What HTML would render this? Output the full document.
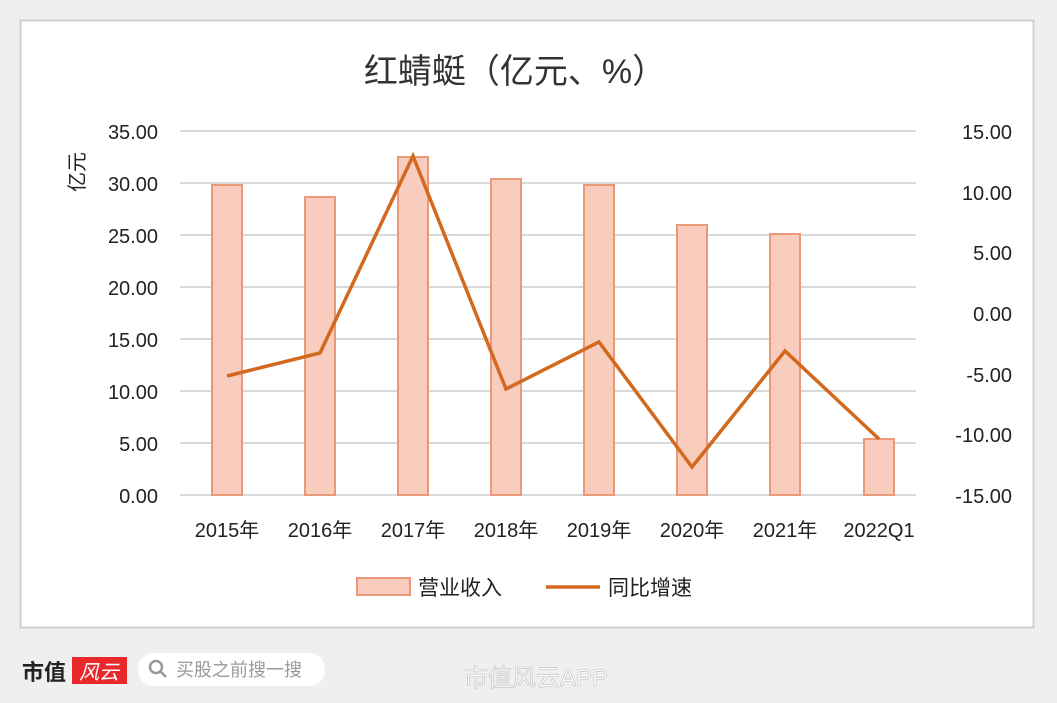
<!DOCTYPE html>
<html><head><meta charset="utf-8"><style>
body{margin:0;width:1057px;height:703px;background:#efefef;overflow:hidden;font-family:"Liberation Sans","Noto Sans CJK SC",sans-serif}
</style></head><body>
<svg width="1057" height="703" xmlns="http://www.w3.org/2000/svg" style="position:absolute;left:0;top:0">
<rect x="20.5" y="20.5" width="1013" height="607" fill="#fff" stroke="#d0d0d0" stroke-width="2"/>
<text x="515" y="83" text-anchor="middle" font-size="34" fill="#333" font-family="Liberation Sans,Noto Sans CJK SC,sans-serif">红蜻蜓（亿元、%）</text>
<g stroke="#d9d9d9" stroke-width="2">
<line x1="180" x2="916" y1="131" y2="131"/><line x1="180" x2="916" y1="183" y2="183"/><line x1="180" x2="916" y1="235" y2="235"/><line x1="180" x2="916" y1="287" y2="287"/><line x1="180" x2="916" y1="339" y2="339"/><line x1="180" x2="916" y1="391" y2="391"/><line x1="180" x2="916" y1="443" y2="443"/><line x1="180" x2="916" y1="495" y2="495"/>
</g>
<g font-size="20" fill="#222" text-anchor="end" font-family="Liberation Sans,sans-serif">
<text x="158" y="139">35.00</text><text x="158" y="191">30.00</text><text x="158" y="243">25.00</text><text x="158" y="295">20.00</text><text x="158" y="347">15.00</text><text x="158" y="399">10.00</text><text x="158" y="451">5.00</text><text x="158" y="503">0.00</text>
</g>
<g font-size="20" fill="#222" text-anchor="end" font-family="Liberation Sans,sans-serif">
<text x="1012" y="139">15.00</text><text x="1012" y="200">10.00</text><text x="1012" y="260">5.00</text><text x="1012" y="321">0.00</text><text x="1012" y="382">-5.00</text><text x="1012" y="442">-10.00</text><text x="1012" y="503">-15.00</text>
</g>
<text x="0" y="0" font-size="20" fill="#222" transform="translate(84,192) rotate(-90)">亿元</text>
<g fill="#f8cdbd" stroke="#e9987a" stroke-width="2">
<rect x="212" y="185" width="30" height="310"/><rect x="305" y="197" width="30" height="298"/><rect x="398" y="157" width="30" height="338"/><rect x="491" y="179" width="30" height="316"/><rect x="584" y="185" width="30" height="310"/><rect x="677" y="225" width="30" height="270"/><rect x="770" y="234" width="30" height="261"/><rect x="864" y="439" width="30" height="56"/>
</g>
<polyline points="227,376 320,353 413,156 506,389 599,342 692,467 785,351 879,439" fill="none" stroke="#d2691e" stroke-width="3.5" stroke-linejoin="miter"/>
<g font-size="20" fill="#222" text-anchor="middle">
<text x="227" y="537">2015年</text><text x="320" y="537">2016年</text><text x="413" y="537">2017年</text><text x="506" y="537">2018年</text><text x="599" y="537">2019年</text><text x="692" y="537">2020年</text><text x="785" y="537">2021年</text><text x="879" y="537">2022Q1</text>
</g>
<rect x="357" y="578" width="53" height="17" fill="#f8cdbd" stroke="#e9987a" stroke-width="2"/>
<text x="418" y="595" font-size="21" fill="#222">营业收入</text>
<line x1="546" x2="600" y1="587" y2="587" stroke="#d2691e" stroke-width="3.5"/>
<text x="608" y="595" font-size="21" fill="#222">同比增速</text>
<text x="22" y="680" font-size="22" font-weight="bold" fill="#222">市值</text>
<rect x="72" y="657" width="55" height="27" fill="#e8282b"/>
<text x="99" y="679" font-size="20" fill="#fff" text-anchor="middle" font-style="italic">风云</text>
<rect x="138" y="653" width="187" height="33" rx="16" fill="#fff"/>
<circle cx="156" cy="667" r="6" fill="none" stroke="#999" stroke-width="2.5"/><line x1="160" y1="671" x2="166" y2="677" stroke="#999" stroke-width="2.5"/>
<text x="176" y="676" font-size="18" fill="#999">买股之前搜一搜</text>
<text x="464" y="686" font-size="24" fill="#fff" stroke="#bbb" stroke-width="0.6">市值风云APP</text>
</svg>
</body></html>
